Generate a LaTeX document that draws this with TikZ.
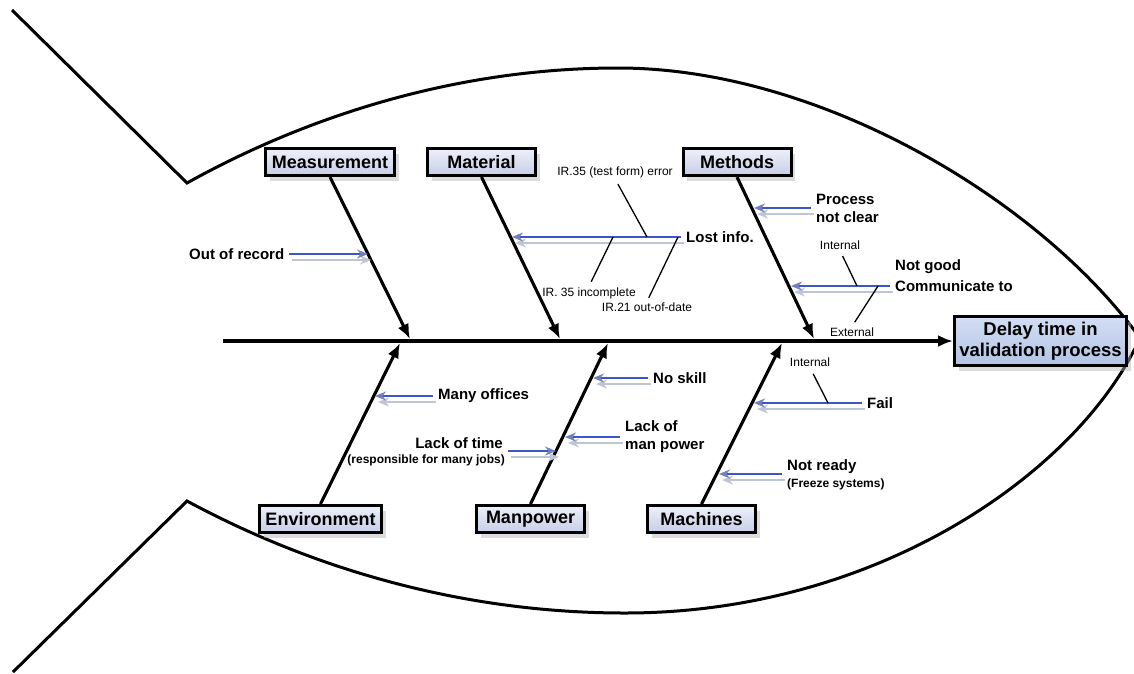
\documentclass[tikz,border=0pt]{standalone}
\usepackage{fontspec}
\setmainfont{Liberation Sans}
\usetikzlibrary{arrows.meta,shadows,calc}

\definecolor{subblue}{RGB}{60,85,200}
\definecolor{subhead}{RGB}{115,128,190}
\definecolor{subshadow}{RGB}{192,197,214}
\definecolor{cattop}{RGB}{238,240,250}
\definecolor{catbot}{RGB}{198,206,230}
\definecolor{headtop}{RGB}{212,222,244}
\definecolor{headbot}{RGB}{178,195,228}

\begin{document}
\begin{tikzpicture}[x=1pt,y=-1pt,
  outline/.style={line width=3pt, line join=miter},
  catbox/.style={draw, line width=3pt, top color=cattop, bottom color=catbot,
    minimum height=27pt, inner sep=0pt, font=\fontsize{18}{21}\selectfont\bfseries,
    drop shadow={shadow xshift=4pt, shadow yshift=-5pt, fill=black!30, opacity=.45}},
  headbox/.style={draw, line width=3pt, top color=headtop, bottom color=headbot,
    minimum width=172pt, minimum height=49pt, inner sep=0pt, align=center,
    font=\fontsize{18.5}{21}\selectfont\bfseries,
    drop shadow={shadow xshift=4pt, shadow yshift=-5pt, fill=black!30, opacity=.45}},
  bone/.style={line width=3.1pt, -{Latex[length=15pt,width=12pt]}},
  cause/.style={font=\fontsize{15}{18}\selectfont\bfseries, inner sep=3pt, align=left},
  aside/.style={font=\fontsize{12}{14}\selectfont\bfseries, inner sep=3pt},
  note/.style={font=\fontsize{12}{14}\selectfont, inner sep=1pt},
  sub/.style={draw=subblue, line width=1.4pt, shorten <=2pt,
    -{Stealth[length=11pt,width=9pt,fill=subhead,color=subhead]},
    preaction={draw=subshadow, line width=1.8pt,
      -{Stealth[length=11pt,width=9pt]},
      transform canvas={shift={(3pt,-6pt)}}}},
  twig/.style={line width=1.3pt}
]
\useasboundingbox (0,0) rectangle (1134,673);
\fill[white] (0,0) rectangle (1134,673);

% fish outline: tail and body
\draw[outline] (12,10) -- (187,183)
  .. controls (300,120) and (450,68) .. (618,68)
  .. controls (820,68) and (1040,200) .. (1140,338);
\draw[outline] (13,672) -- (187,501)
  .. controls (300,562) and (450,613) .. (625,613)
  .. controls (880,613) and (1080,470) .. (1140,338);

% effect and categories
\node[headbox] (head) at (1040.5,341) {Delay time in\\validation process};
\node[catbox, minimum width=129pt] (meas) at (330,162) {Measurement};
\node[catbox, minimum width=108pt] (mat)  at (481.5,162) {Material};
\node[catbox, minimum width=108pt] (meth) at (737,162) {Methods};
\node[catbox, minimum width=122pt] (env)  at (320.5,519) {Environment};
\node[catbox, minimum width=108pt] (man)  at (530.5,519) {Manpower};
\node[catbox, minimum width=108pt] (mach) at (701.5,519) {Machines};

% spine and main bones
\coordinate (s0) at (223,341);
\coordinate (b-meas) at (410,339);
\coordinate (b-mat)  at (560,339);
\coordinate (b-meth) at (814,339);
\coordinate (b-env)  at (400,343);
\coordinate (b-man)  at (608,343);
\coordinate (b-mach) at (782,343);
\draw[bone] (s0) -- (head.west);
\draw[bone] (meas.south) -- (b-meas);
\draw[bone] (mat.south)  -- (b-mat);
\draw[bone] (meth.south) -- (b-meth);
\draw[bone] (env.north)  -- (b-env);
\draw[bone] (man.north)  -- (b-man);
\draw[bone] (mach.north) -- (b-mach);

% points where the causes meet the bones
\coordinate (t-oor)  at (368,254);
\coordinate (t-lost) at (512,237);
\coordinate (t-pnc)  at (754,208);
\coordinate (t-ng)   at (791,286);
\coordinate (t-mo)   at (375,396);
\coordinate (t-lot)  at (556,451);
\coordinate (t-lmp)  at (565,437);
\coordinate (t-ns)   at (593,378);
\coordinate (t-fail) at (754,403);
\coordinate (t-nr)   at (719,474);

% cause labels
\node[cause, anchor=west] (oor)  at (186,254) {Out of record};
\node[cause, anchor=west] (lost) at (683,237) {Lost info.};
\node[cause, anchor=west] (pnc)  at (813,208) {Process\\not clear};
\node[cause, anchor=west] (ng1)  at (892,267) {Not good};
\node[cause, anchor=west] (ng2)  at (892,286) {Communicate to};
\node[cause, anchor=west] (mo)   at (435,396) {Many offices};
\node[cause, anchor=east] (lot1) at (506,443) {Lack of time};
\node[aside, anchor=east] (lot2) at (508,460) {(responsible for many jobs)};
\node[cause, anchor=west] (ns)   at (650,378) {No skill};
\node[cause, anchor=west] (lmp)  at (622,437) {Lack of\\man power};
\node[cause, anchor=west] (fail) at (864,403) {Fail};
\node[cause, anchor=west] (nr1)  at (784,467) {Not ready};
\node[aside, anchor=west] (nr2)  at (784,484) {(Freeze systems)};

% cause arrows
\draw[sub] (oor.east |- t-oor) -- (t-oor);
\draw[sub] (lost.west |- t-lost) -- (t-lost);
\draw[sub] (pnc.west |- t-pnc) -- (t-pnc);
\draw[sub] (ng2.west |- t-ng) -- (t-ng);
\draw[sub] (mo.west |- t-mo) -- (t-mo);
\draw[sub] (lot1.east |- t-lot) -- (t-lot);
\draw[sub] (lmp.west |- t-lmp) -- (t-lmp);
\draw[sub] (ns.west |- t-ns) -- (t-ns);
\draw[sub] (fail.west |- t-fail) -- (t-fail);
\draw[sub] (nr1.west |- t-nr) -- (t-nr);

% sub-causes
\coordinate (c1) at (647,237);
\coordinate (c2) at (613,237);
\coordinate (c3) at (678,237);
\coordinate (c4) at (857,286);
\coordinate (c5) at (878,286);
\coordinate (c6) at (828,403);
\node[note] (n1) at (615,172) {IR.35 (test form) error};
\node[note] (n2) at (589,293) {IR. 35 incomplete};
\node[note] (n3) at (647,307) {IR.21 out-of-date};
\node[note] (n4) at (840,245) {Internal};
\node[note] (n5) at (852,332) {External};
\node[note] (n6) at (810,362) {Internal};
\draw[twig, shorten <=6pt] (n1.south) -- (c1);
\draw[twig, shorten <=5pt] (n2.north) -- (c2);
\draw[twig, shorten <=4pt] (n3.north) -- (c3);
\draw[twig, shorten <=6pt] (n4.south) -- (c4);
\draw[twig, shorten <=5pt] (n5.north) -- (c5);
\draw[twig, shorten <=7pt] (n6.south) -- (c6);
\end{tikzpicture}
\end{document}
